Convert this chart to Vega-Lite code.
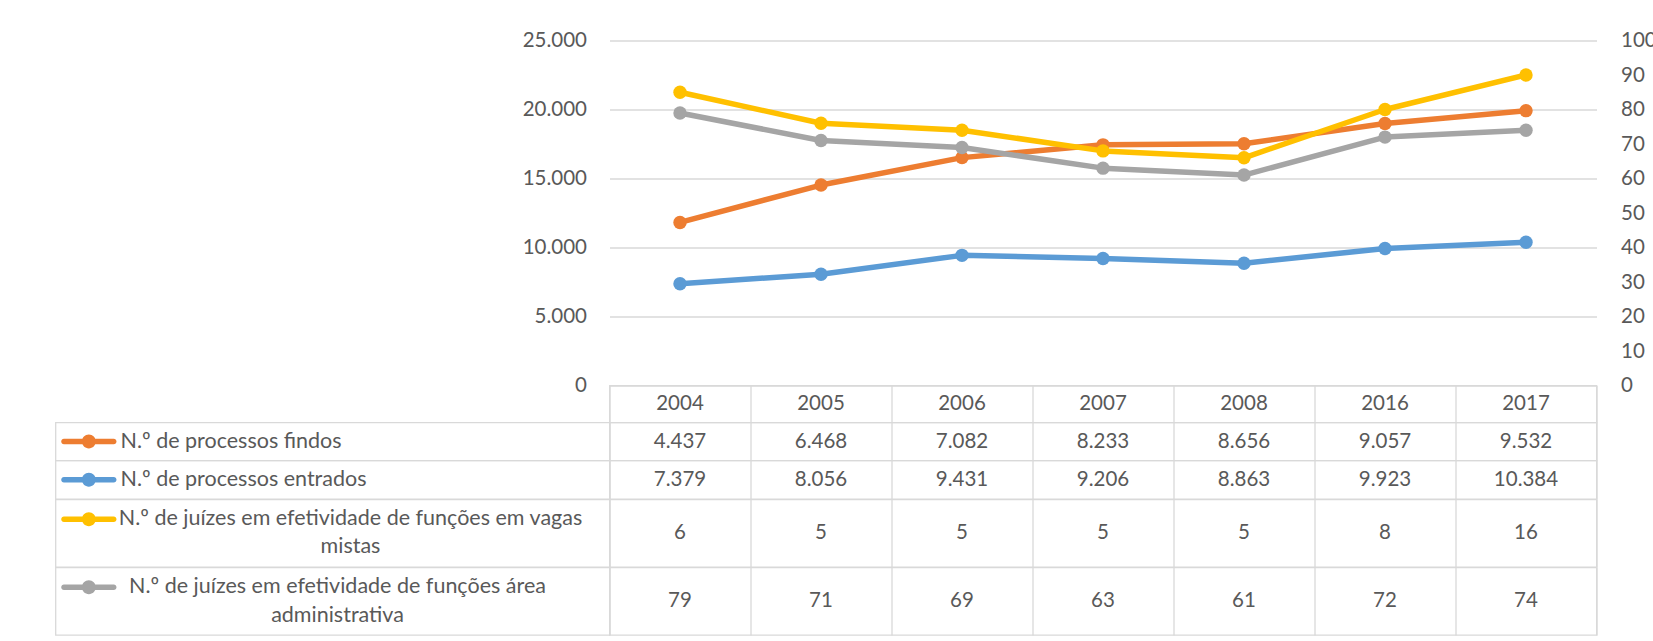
{
  "$schema": "https://vega.github.io/schema/vega-lite/v6.json",
  "background": "white",
  "padding": {"left": 54.5, "top": 30.5, "right": 0, "bottom": 0},
  "config": {
    "view": {"stroke": null},
    "locale": {"number": {"decimal": ",", "thousands": ".", "grouping": [3], "currency": ["", " €"]}},
    "axis": {"labelFont": "Lato", "labelFontSize": 20.5, "labelColor": "#595959", "domain": false, "ticks": false, "title": null},
    "text": {"font": "Lato", "fontSize": 20.5, "fill": "#595959"}
  },
  "datasets": {
    "d": [
      {"year": "2004", "series": "N.º de processos findos", "value": 4437},
      {"year": "2005", "series": "N.º de processos findos", "value": 6468},
      {"year": "2006", "series": "N.º de processos findos", "value": 7082},
      {"year": "2007", "series": "N.º de processos findos", "value": 8233},
      {"year": "2008", "series": "N.º de processos findos", "value": 8656},
      {"year": "2016", "series": "N.º de processos findos", "value": 9057},
      {"year": "2017", "series": "N.º de processos findos", "value": 9532},
      {"year": "2004", "series": "N.º de processos entrados", "value": 7379},
      {"year": "2005", "series": "N.º de processos entrados", "value": 8056},
      {"year": "2006", "series": "N.º de processos entrados", "value": 9431},
      {"year": "2007", "series": "N.º de processos entrados", "value": 9206},
      {"year": "2008", "series": "N.º de processos entrados", "value": 8863},
      {"year": "2016", "series": "N.º de processos entrados", "value": 9923},
      {"year": "2017", "series": "N.º de processos entrados", "value": 10384},
      {"year": "2004", "series": "N.º de juízes em efetividade de funções em vagas mistas", "value": 6},
      {"year": "2005", "series": "N.º de juízes em efetividade de funções em vagas mistas", "value": 5},
      {"year": "2006", "series": "N.º de juízes em efetividade de funções em vagas mistas", "value": 5},
      {"year": "2007", "series": "N.º de juízes em efetividade de funções em vagas mistas", "value": 5},
      {"year": "2008", "series": "N.º de juízes em efetividade de funções em vagas mistas", "value": 5},
      {"year": "2016", "series": "N.º de juízes em efetividade de funções em vagas mistas", "value": 8},
      {"year": "2017", "series": "N.º de juízes em efetividade de funções em vagas mistas", "value": 16},
      {"year": "2004", "series": "N.º de juízes em efetividade de funções área administrativa", "value": 79},
      {"year": "2005", "series": "N.º de juízes em efetividade de funções área administrativa", "value": 71},
      {"year": "2006", "series": "N.º de juízes em efetividade de funções área administrativa", "value": 69},
      {"year": "2007", "series": "N.º de juízes em efetividade de funções área administrativa", "value": 63},
      {"year": "2008", "series": "N.º de juízes em efetividade de funções área administrativa", "value": 61},
      {"year": "2016", "series": "N.º de juízes em efetividade de funções área administrativa", "value": 72},
      {"year": "2017", "series": "N.º de juízes em efetividade de funções área administrativa", "value": 74}
    ],
    "s": [
      {"series": "N.º de processos findos", "label": "N.º de processos findos"},
      {"series": "N.º de processos entrados", "label": "N.º de processos entrados"},
      {"series": "N.º de juízes em efetividade de funções em vagas mistas", "label": ["N.º de juízes em efetividade de funções em vagas", "mistas"]},
      {"series": "N.º de juízes em efetividade de funções área administrativa", "label": ["N.º de juízes em efetividade de funções área", "administrativa"]}
    ]
  },
  "columns": 2,
  "spacing": 0,
  "bounds": "flush",
  "concat": [
    {"width": 554, "height": 345, "data": {"values": [{}]}, "mark": {"type": "text", "text": ""}},
    {
      "width": 987,
      "height": 345,
      "data": {"name": "d"},
      "layer": [
        {
          "transform": [
            {"filter": {"field": "series", "oneOf": ["N.º de processos findos", "N.º de processos entrados"]}},
            {"stack": "value", "groupby": ["year"], "sort": [{"field": "series", "order": "ascending"}], "as": ["v0", "v1"]}
          ],
          "mark": {"type": "line", "strokeWidth": 5.5, "strokeCap": "round", "strokeJoin": "round", "point": {"filled": true, "size": 180, "opacity": 1}},
          "encoding": {
            "x": {"field": "year", "type": "ordinal", "scale": {"type": "point", "padding": 0.5}, "axis": null},
            "y": {"field": "v1", "type": "quantitative", "scale": {"domain": [0, 25000], "nice": false},
              "axis": {"orient": "left", "values": [0, 5000, 10000, 15000, 20000, 25000], "format": ",d", "grid": true, "gridColor": "#d9d9d9", "gridWidth": 1.3, "labelPadding": 23}},
            "color": {"field": "series", "type": "nominal", "legend": null,
              "scale": {"domain": ["N.º de processos findos", "N.º de processos entrados", "N.º de juízes em efetividade de funções em vagas mistas", "N.º de juízes em efetividade de funções área administrativa"], "range": ["#ED7D31", "#5B9BD5", "#FFC000", "#A5A5A5"]}}
          }
        },
        {
          "transform": [
            {"filter": {"field": "series", "oneOf": ["N.º de juízes em efetividade de funções em vagas mistas", "N.º de juízes em efetividade de funções área administrativa"]}},
            {"stack": "value", "groupby": ["year"], "sort": [{"field": "series", "order": "descending"}], "as": ["v0", "v1"]}
          ],
          "mark": {"type": "line", "strokeWidth": 5.5, "strokeCap": "round", "strokeJoin": "round", "point": {"filled": true, "size": 180, "opacity": 1}},
          "encoding": {
            "x": {"field": "year", "type": "ordinal", "scale": {"type": "point", "padding": 0.5}, "axis": null},
            "y": {"field": "v1", "type": "quantitative", "scale": {"domain": [0, 100], "nice": false},
              "axis": {"orient": "right", "values": [0, 10, 20, 30, 40, 50, 60, 70, 80, 90, 100], "grid": false, "labelPadding": 24}},
            "color": {"field": "series", "type": "nominal", "legend": null,
              "scale": {"domain": ["N.º de processos findos", "N.º de processos entrados", "N.º de juízes em efetividade de funções em vagas mistas", "N.º de juízes em efetividade de funções área administrativa"], "range": ["#ED7D31", "#5B9BD5", "#FFC000", "#A5A5A5"]}}
          }
        }
      ],
      "resolve": {"scale": {"y": "independent"}, "axis": {"y": "independent"}}
    },
    {"width": 554, "height": 37, "data": {"values": [{}]}, "mark": {"type": "text", "text": ""}},
    {
      "width": 987, "height": 37,
      "view": {"stroke": "#d9d9d9", "strokeWidth": 1.3},
      "data": {"name": "d"},
      "transform": [{"filter": {"field": "series", "equal": "N.º de processos findos"}}],
      "mark": {"type": "text"},
      "encoding": {
        "x": {"field": "year", "type": "ordinal", "scale": {"type": "band", "paddingInner": 0, "paddingOuter": 0},
          "axis": {"grid": true, "tickBand": "extent", "labels": false, "gridColor": "#d9d9d9", "gridWidth": 1.3}},
        "text": {"field": "year", "type": "nominal"}
      }
    },
    {
      "width": 554, "height": 38,
      "view": {"stroke": "#d9d9d9", "strokeWidth": 1.3},
      "data": {"name": "s"},
      "transform": [{"filter": {"field": "series", "equal": "N.º de processos findos"}}],
      "layer": [
        {"mark": {"type": "point", "shape": "M-0.9,-0.1L0.9,-0.1A0.1,0.1,0,0,1,0.9,0.1L-0.9,0.1A0.1,0.1,0,0,1,-0.9,-0.1Z M0.25,0A0.25,0.25,0,1,1,-0.25,0A0.25,0.25,0,1,1,0.25,0Z", "size": 3058, "filled": true, "opacity": 1, "strokeWidth": 0, "xOffset": -243.65},
          "encoding": {"color": {"field": "series", "type": "nominal", "legend": null, "scale": {"domain": ["N.º de processos findos", "N.º de processos entrados", "N.º de juízes em efetividade de funções em vagas mistas", "N.º de juízes em efetividade de funções área administrativa"], "range": ["#ED7D31", "#5B9BD5", "#FFC000", "#A5A5A5"]}}}},
        {"mark": {"type": "text", "align": "left", "dx": -212, "fontSize": 21.5}, "encoding": {"text": {"field": "label", "type": "nominal"}}}
      ]
    },
    {
      "width": 987, "height": 38,
      "view": {"stroke": "#d9d9d9", "strokeWidth": 1.3},
      "data": {"name": "d"},
      "transform": [{"filter": {"field": "series", "equal": "N.º de processos findos"}}],
      "mark": {"type": "text"},
      "encoding": {
        "x": {"field": "year", "type": "ordinal", "scale": {"type": "band", "paddingInner": 0, "paddingOuter": 0},
          "axis": {"grid": true, "tickBand": "extent", "labels": false, "gridColor": "#d9d9d9", "gridWidth": 1.3}},
        "text": {"field": "value", "type": "quantitative", "format": ",d"}
      }
    },
    {
      "width": 554, "height": 38.5,
      "view": {"stroke": "#d9d9d9", "strokeWidth": 1.3},
      "data": {"name": "s"},
      "transform": [{"filter": {"field": "series", "equal": "N.º de processos entrados"}}],
      "layer": [
        {"mark": {"type": "point", "shape": "M-0.9,-0.1L0.9,-0.1A0.1,0.1,0,0,1,0.9,0.1L-0.9,0.1A0.1,0.1,0,0,1,-0.9,-0.1Z M0.25,0A0.25,0.25,0,1,1,-0.25,0A0.25,0.25,0,1,1,0.25,0Z", "size": 3058, "filled": true, "opacity": 1, "strokeWidth": 0, "xOffset": -243.65},
          "encoding": {"color": {"field": "series", "type": "nominal", "legend": null, "scale": {"domain": ["N.º de processos findos", "N.º de processos entrados", "N.º de juízes em efetividade de funções em vagas mistas", "N.º de juízes em efetividade de funções área administrativa"], "range": ["#ED7D31", "#5B9BD5", "#FFC000", "#A5A5A5"]}}}},
        {"mark": {"type": "text", "align": "left", "dx": -212, "fontSize": 21.5}, "encoding": {"text": {"field": "label", "type": "nominal"}}}
      ]
    },
    {
      "width": 987, "height": 38.5,
      "view": {"stroke": "#d9d9d9", "strokeWidth": 1.3},
      "data": {"name": "d"},
      "transform": [{"filter": {"field": "series", "equal": "N.º de processos entrados"}}],
      "mark": {"type": "text"},
      "encoding": {
        "x": {"field": "year", "type": "ordinal", "scale": {"type": "band", "paddingInner": 0, "paddingOuter": 0},
          "axis": {"grid": true, "tickBand": "extent", "labels": false, "gridColor": "#d9d9d9", "gridWidth": 1.3}},
        "text": {"field": "value", "type": "quantitative", "format": ",d"}
      }
    },
    {
      "width": 554, "height": 67.5,
      "view": {"stroke": "#d9d9d9", "strokeWidth": 1.3},
      "data": {"name": "s"},
      "transform": [{"filter": {"field": "series", "equal": "N.º de juízes em efetividade de funções em vagas mistas"}}],
      "layer": [
        {"mark": {"type": "point", "shape": "M-0.9,-0.1L0.9,-0.1A0.1,0.1,0,0,1,0.9,0.1L-0.9,0.1A0.1,0.1,0,0,1,-0.9,-0.1Z M0.25,0A0.25,0.25,0,1,1,-0.25,0A0.25,0.25,0,1,1,0.25,0Z", "size": 3058, "filled": true, "opacity": 1, "strokeWidth": 0, "xOffset": -243.65, "yOffset": -14},
          "encoding": {"color": {"field": "series", "type": "nominal", "legend": null, "scale": {"domain": ["N.º de processos findos", "N.º de processos entrados", "N.º de juízes em efetividade de funções em vagas mistas", "N.º de juízes em efetividade de funções área administrativa"], "range": ["#ED7D31", "#5B9BD5", "#FFC000", "#A5A5A5"]}}}},
        {"mark": {"type": "text", "align": "center", "dx": 18, "dy": -14, "lineHeight": 28, "fontSize": 21.5}, "encoding": {"text": {"field": "label", "type": "nominal"}}}
      ]
    },
    {
      "width": 987, "height": 67.5,
      "view": {"stroke": "#d9d9d9", "strokeWidth": 1.3},
      "data": {"name": "d"},
      "transform": [{"filter": {"field": "series", "equal": "N.º de juízes em efetividade de funções em vagas mistas"}}],
      "mark": {"type": "text"},
      "encoding": {
        "x": {"field": "year", "type": "ordinal", "scale": {"type": "band", "paddingInner": 0, "paddingOuter": 0},
          "axis": {"grid": true, "tickBand": "extent", "labels": false, "gridColor": "#d9d9d9", "gridWidth": 1.3}},
        "text": {"field": "value", "type": "quantitative", "format": ",d"}
      }
    },
    {
      "width": 554, "height": 67.5,
      "view": {"stroke": "#d9d9d9", "strokeWidth": 1.3},
      "data": {"name": "s"},
      "transform": [{"filter": {"field": "series", "equal": "N.º de juízes em efetividade de funções área administrativa"}}],
      "layer": [
        {"mark": {"type": "point", "shape": "M-0.9,-0.1L0.9,-0.1A0.1,0.1,0,0,1,0.9,0.1L-0.9,0.1A0.1,0.1,0,0,1,-0.9,-0.1Z M0.25,0A0.25,0.25,0,1,1,-0.25,0A0.25,0.25,0,1,1,0.25,0Z", "size": 3058, "filled": true, "opacity": 1, "strokeWidth": 0, "xOffset": -243.65, "yOffset": -14},
          "encoding": {"color": {"field": "series", "type": "nominal", "legend": null, "scale": {"domain": ["N.º de processos findos", "N.º de processos entrados", "N.º de juízes em efetividade de funções em vagas mistas", "N.º de juízes em efetividade de funções área administrativa"], "range": ["#ED7D31", "#5B9BD5", "#FFC000", "#A5A5A5"]}}}},
        {"mark": {"type": "text", "align": "center", "dx": 5, "dy": -14, "lineHeight": 29, "fontSize": 21.5}, "encoding": {"text": {"field": "label", "type": "nominal"}}}
      ]
    },
    {
      "width": 987, "height": 67.5,
      "view": {"stroke": "#d9d9d9", "strokeWidth": 1.3},
      "data": {"name": "d"},
      "transform": [{"filter": {"field": "series", "equal": "N.º de juízes em efetividade de funções área administrativa"}}],
      "mark": {"type": "text"},
      "encoding": {
        "x": {"field": "year", "type": "ordinal", "scale": {"type": "band", "paddingInner": 0, "paddingOuter": 0},
          "axis": {"grid": true, "tickBand": "extent", "labels": false, "gridColor": "#d9d9d9", "gridWidth": 1.3}},
        "text": {"field": "value", "type": "quantitative", "format": ",d"}
      }
    }
  ]
}
